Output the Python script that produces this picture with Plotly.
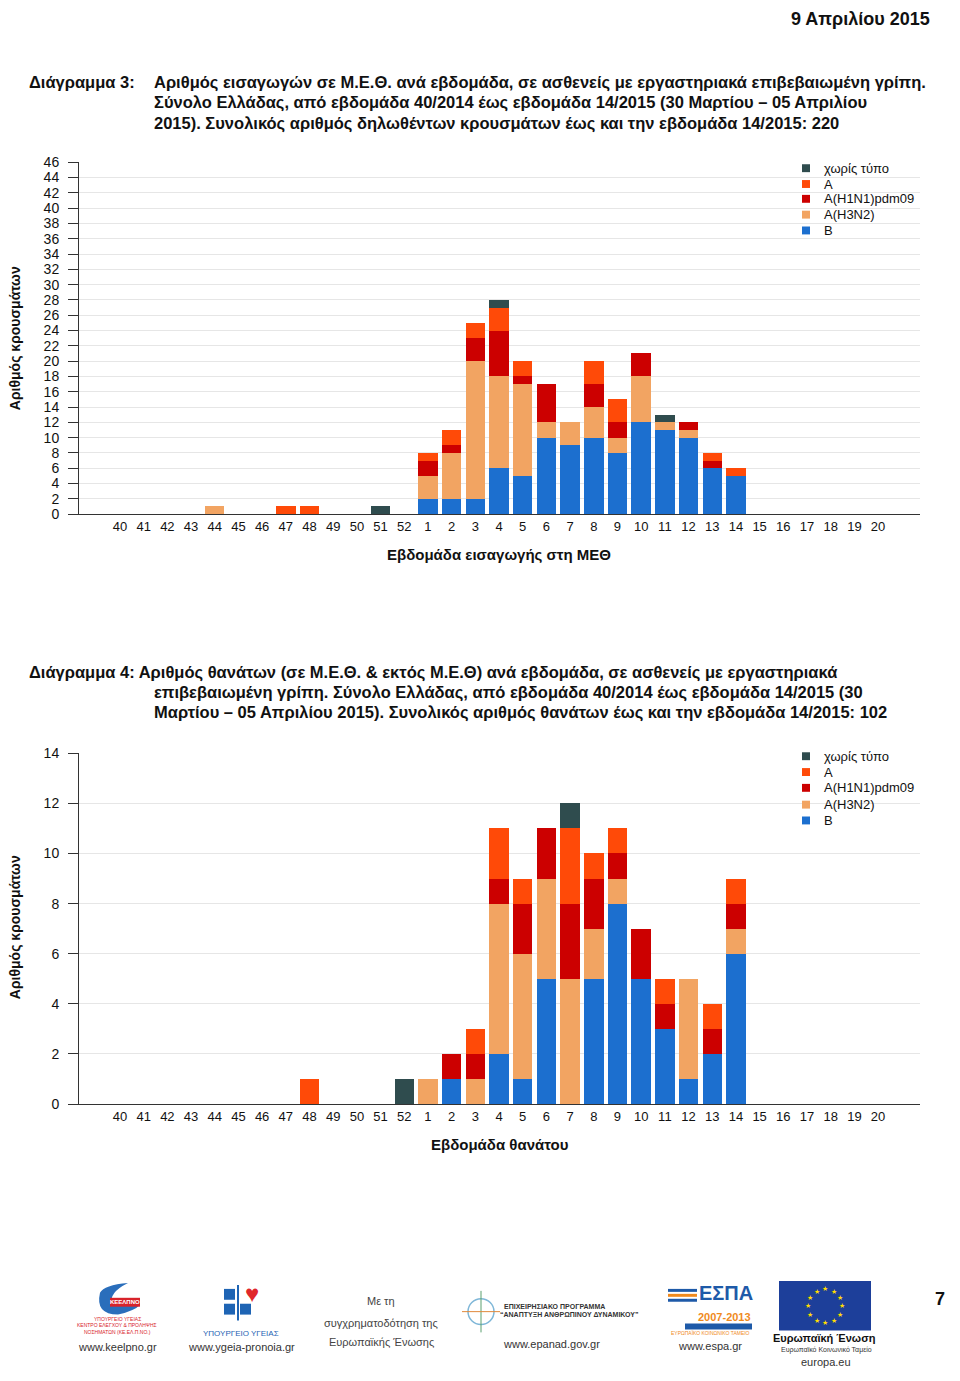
import math
import plotly.graph_objects as go

# ---------------- data ----------------
weeks = [str(w) for w in range(40, 53)] + [str(w) for w in range(1, 21)]

series_names = ["B", "A(H3N2)", "A(H1N1)pdm09", "A", "χωρίς τύπο"]
series_colors = ["#1C6FCF", "#F2A462", "#CC0000", "#FF4A08", "#2F4C4E"]

# Chart 3: ICU admissions per week (weeks 40..52, then 1..20)
icu_B     = [0]*13 + [2, 2, 2, 6, 5, 10, 9, 10, 8, 12, 11, 10, 6, 5] + [0]*6
icu_H3N2  = [0, 0, 0, 0, 1, 0, 0, 0, 0, 0, 0, 0, 0] + [3, 6, 18, 12, 12, 2, 3, 4, 2, 6, 1, 1, 0, 0] + [0]*6
icu_H1N1  = [0]*13 + [2, 1, 3, 6, 1, 5, 0, 3, 2, 3, 0, 1, 1, 0] + [0]*6
icu_A     = [0, 0, 0, 0, 0, 0, 0, 1, 1, 0, 0, 0, 0] + [1, 2, 2, 3, 2, 0, 0, 3, 3, 0, 0, 0, 1, 1] + [0]*6
icu_none  = [0, 0, 0, 0, 0, 0, 0, 0, 0, 0, 0, 1, 0] + [0, 0, 0, 1, 0, 0, 0, 0, 0, 0, 1, 0, 0, 0] + [0]*6

# Chart 4: deaths per week
d_B    = [0]*13 + [0, 1, 0, 2, 1, 5, 0, 5, 8, 5, 3, 1, 2, 6] + [0]*6
d_H3N2 = [0]*13 + [1, 0, 1, 6, 5, 4, 5, 2, 1, 0, 0, 4, 0, 1] + [0]*6
d_H1N1 = [0]*13 + [0, 1, 1, 1, 2, 2, 3, 2, 1, 2, 1, 0, 1, 1] + [0]*6
d_A    = [0, 0, 0, 0, 0, 0, 0, 0, 1, 0, 0, 0, 0] + [0, 0, 1, 2, 1, 0, 3, 1, 1, 0, 1, 0, 1, 1] + [0]*6
d_none = [0]*12 + [1] + [0, 0, 0, 0, 0, 0, 1, 0, 0, 0, 0, 0, 0, 0] + [0]*6

icu_series = [icu_B, icu_H3N2, icu_H1N1, icu_A, icu_none]
death_series = [d_B, d_H3N2, d_H1N1, d_A, d_none]

y1_ticks = list(range(0, 47, 2))
y2_ticks = list(range(0, 15, 2))

# ---------------- helpers ----------------
PAGE_W, PAGE_H = 960, 1381
OFF = 8  # default body margin of the html page
W, H = PAGE_W - 2 * OFF, PAGE_H - 2 * OFF

def X(px):
    return (px - OFF) / W
def Y(py):
    return 1 - (py - OFF) / H

SANS = "Liberation Sans, Arial, Helvetica, sans-serif"
TXT = "#111111"

fig = go.Figure()
for vals, name, col in zip(icu_series, series_names, series_colors):
    fig.add_trace(go.Bar(x=weeks, y=vals, name=name, marker_color=col,
                         marker_line_width=0, xaxis="x", yaxis="y", showlegend=False))
for vals, name, col in zip(death_series, series_names, series_colors):
    fig.add_trace(go.Bar(x=weeks, y=vals, name=name, marker_color=col,
                         marker_line_width=0, xaxis="x2", yaxis="y2", showlegend=False))

xrange = [-1.73, 33.77]
common_x = dict(type="category", categoryorder="array", categoryarray=weeks,
                range=xrange, showgrid=False, showline=True, linecolor="#333333",
                linewidth=1, ticks="", tickfont=dict(family=SANS, size=13, color=TXT),
                fixedrange=True)
common_y = dict(showgrid=True, gridcolor="#e6e6e6", gridwidth=1, showline=True,
                linecolor="#333333", linewidth=1, ticks="outside", ticklen=10,
                tickcolor="#333333", tickfont=dict(family=SANS, size=14, color=TXT),
                ticklabelstandoff=6, zeroline=False)

fig.update_layout(
    width=W, height=H, autosize=False,
    margin=dict(l=0, r=0, t=0, b=0),
    paper_bgcolor="white", plot_bgcolor="white",
    barmode="stack", bargap=0.18,
    xaxis=dict(domain=[X(79), X(920)], anchor="y", **common_x),
    yaxis=dict(domain=[Y(512), Y(156)], anchor="x", range=[0, 46],
               tickvals=y1_ticks, **common_y),
    xaxis2=dict(domain=[X(79), X(920)], anchor="y2", **common_x),
    yaxis2=dict(domain=[Y(1109), Y(754)], anchor="x2", range=[0, 14],
                tickvals=y2_ticks, **common_y),
)

ann = []
shapes = []

def text(x, y, s, size=13, family=SANS, color=TXT, bold=False, xanchor="left",
         angle=0, yanchor="middle"):
    if bold:
        s = "<b>" + s + "</b>"
    ann.append(dict(x=X(x), y=Y(y), xref="paper", yref="paper", text=s,
                    showarrow=False, xanchor=xanchor, yanchor=yanchor,
                    textangle=angle, font=dict(family=family, size=size, color=color)))

TS = 16.5  # title font size

# header
text(932, 11, "9 Απριλίου 2015", size=18, bold=True, xanchor="right")

# chart 3 title
text(27, 75, "Διάγραμμα 3:", size=TS, bold=True)
text(152, 75, "Αριθμός εισαγωγών σε Μ.Ε.Θ. ανά εβδομάδα, σε ασθενείς με εργαστηριακά επιβεβαιωμένη γρίπη.", size=TS, bold=True)
text(152, 96, "Σύνολο Ελλάδας, από εβδομάδα 40/2014 έως εβδομάδα 14/2015 (30 Μαρτίου – 05 Απριλίου", size=TS, bold=True)
text(152, 117, "2015). Συνολικός αριθμός δηλωθέντων κρουσμάτων έως και την εβδομάδα 14/2015: 220", size=TS, bold=True)

# chart 4 title
text(27, 672, "Διάγραμμα 4: Αριθμός θανάτων (σε Μ.Ε.Θ. & εκτός Μ.Ε.Θ) ανά εβδομάδα, σε ασθενείς με εργαστηριακά", size=TS, bold=True)
text(152, 693, "επιβεβαιωμένη γρίπη. Σύνολο Ελλάδας, από εβδομάδα 40/2014 έως εβδομάδα 14/2015 (30", size=TS, bold=True)
text(152, 713, "Μαρτίου – 05 Απριλίου 2015). Συνολικός αριθμός θανάτων έως και την εβδομάδα 14/2015: 102", size=TS, bold=True)

# axis titles
text(499, 553, "Εβδομάδα εισαγωγής στη ΜΕΘ", size=15, bold=True, xanchor="center")
text(500, 1150, "Εβδομάδα θανάτου", size=15, bold=True, xanchor="center")
text(15, 334, "Αριθμός κρουσμάτων", size=14, bold=True, xanchor="center", angle=-90)
text(15, 930, "Αριθμός κρουσμάτων", size=14, bold=True, xanchor="center", angle=-90)

# legends (top to bottom: reversed stacking order)
leg_rows1 = [162, 178, 193, 209, 225]
leg_rows2 = [757, 773, 789, 806, 822]
for rows in (leg_rows1, leg_rows2):
    for ry, name, col in zip(rows, series_names[::-1], series_colors[::-1]):
        shapes.append(dict(type="rect", xref="paper", yref="paper",
                           x0=X(802), x1=X(810), y0=Y(ry + 4), y1=Y(ry - 4),
                           fillcolor=col, line_width=0))
        text(822, ry, name, size=13)

# ---------------- footer logos (approximate) ----------------
shapes.append(dict(type="path", xref="paper", yref="paper",
                   path=f"M {X(100)},{Y(1300)} Q {X(95)},{Y(1322)} {X(118)},{Y(1322)} "
                        f"Q {X(135)},{Y(1318)} {X(140)},{Y(1312)} L {X(112)},{Y(1312)} "
                        f"Q {X(108)},{Y(1300)} {X(128)},{Y(1290)} Q {X(104)},{Y(1292)} {X(100)},{Y(1300)} Z",
                   fillcolor="#2a6ebb", line_width=0))
shapes.append(dict(type="rect", xref="paper", yref="paper",
                   x0=X(110), x1=X(140), y0=Y(1314), y1=Y(1305),
                   fillcolor="#d8232a", line_width=0))
text(125, 1309.5, "ΚΕΕΛΠΝΟ", size=6, color="white", bold=True, xanchor="center")
text(117, 1326, "ΥΠΟΥΡΓΕΙΟ ΥΓΕΙΑΣ", size=5, color="#d8232a", xanchor="center")
text(117, 1333, "ΚΕΝΤΡΟ ΕΛΕΓΧΟΥ & ΠΡΟΛΗΨΗΣ", size=5, color="#d8232a", xanchor="center")
text(117, 1340, "ΝΟΣΗΜΑΤΩΝ (ΚΕ.ΕΛ.Π.ΝΟ.)", size=5, color="#d8232a", xanchor="center")
text(117, 1355, "www.keelpno.gr", size=11, color="#333333", xanchor="center")

for (x0, y0, x1, y1) in [(224, 1296, 235, 1307), (224, 1311, 235, 1322), (240, 1311, 251, 1322)]:
    shapes.append(dict(type="rect", xref="paper", yref="paper",
                       x0=X(x0), x1=X(x1), y0=Y(y1), y1=Y(y0),
                       fillcolor="#1e64b4", line_width=0))
text(252, 1301, "♥", size=24, color="#e0262b", xanchor="center")
shapes.append(dict(type="line", xref="paper", yref="paper",
                   x0=X(238), x1=X(238), y0=Y(1328), y1=Y(1292),
                   line=dict(color="#1e64b4", width=2)))
text(241, 1341, "ΥΠΟΥΡΓΕΙΟ ΥΓΕΙΑΣ", size=8, color="#1e64b4", xanchor="center")
text(241, 1355, "www.ygeia-pronoia.gr", size=11, color="#333333", xanchor="center")

text(381, 1308, "Με τη", size=11, color="#444444", xanchor="center")
text(381, 1330, "συγχρηματοδότηση της", size=11, color="#444444", xanchor="center")
text(381, 1350, "Ευρωπαϊκής Ένωσης", size=11, color="#444444", xanchor="center")

shapes.append(dict(type="circle", xref="paper", yref="paper",
                   x0=X(468), x1=X(494), y0=Y(1332), y1=Y(1306),
                   line=dict(color="#7fb7d8", width=1.5)))
shapes.append(dict(type="line", xref="paper", yref="paper",
                   x0=X(481), x1=X(481), y0=Y(1340), y1=Y(1298),
                   line=dict(color="#5a9f6e", width=1)))
shapes.append(dict(type="line", xref="paper", yref="paper",
                   x0=X(462), x1=X(500), y0=Y(1319), y1=Y(1319),
                   line=dict(color="#e08a3c", width=1)))
text(502, 1314, "ΕΠΙΧΕΙΡΗΣΙΑΚΟ ΠΡΟΓΡΑΜΜΑ", size=7, color="#333333", bold=True)
text(498, 1322, "“ΑΝΑΠΤΥΞΗ ΑΝΘΡΩΠΙΝΟΥ ΔΥΝΑΜΙΚΟΥ”", size=7, color="#333333", bold=True)
text(551, 1352, "www.epanad.gov.gr", size=11, color="#333333", xanchor="center")

text(726, 1300, "ΕΣΠΑ", size=20, color="#1e5aa8", bold=True, xanchor="center")
text(724, 1324, "2007-2013", size=11, color="#f08a1c", bold=True, xanchor="center")
shapes.append(dict(type="rect", xref="paper", yref="paper",
                   x0=X(685), x1=X(752), y0=Y(1337), y1=Y(1331),
                   fillcolor="#1e5aa8", line_width=0))
text(710, 1341, "ΕΥΡΩΠΑΪΚΟ ΚΟΙΝΩΝΙΚΟ ΤΑΜΕΙΟ", size=5, color="#f08a1c", xanchor="center")
for i, c in enumerate(["#1e5aa8", "#f08a1c", "#1e5aa8"]):
    shapes.append(dict(type="rect", xref="paper", yref="paper",
                       x0=X(668), x1=X(697), y0=Y(1296 + i * 5 + 3), y1=Y(1296 + i * 5),
                       fillcolor=c, line_width=0))
text(710, 1354, "www.espa.gr", size=11, color="#333333", xanchor="center")

shapes.append(dict(type="rect", xref="paper", yref="paper",
                   x0=X(779), x1=X(871), y0=Y(1338), y1=Y(1288),
                   fillcolor="#1d3f9a", line_width=0))
for k in range(12):
    a = 2 * math.pi * k / 12
    text(825 + 17 * math.cos(a), 1313 + 17 * math.sin(a), "★", size=7, color="#ffdd00",
         xanchor="center")
text(824, 1346, "Ευρωπαϊκή Ένωση", size=11, color="#111111", bold=True, xanchor="center")
text(826, 1358, "Ευρωπαϊκό Κοινωνικό Ταμείο", size=7, color="#333333", xanchor="center")
text(826, 1370, "europa.eu", size=11, color="#333333", xanchor="center")

text(940, 1306, "7", size=18, bold=True, xanchor="center")

fig.update_layout(annotations=ann, shapes=shapes)
fig.write_html("out.html")
